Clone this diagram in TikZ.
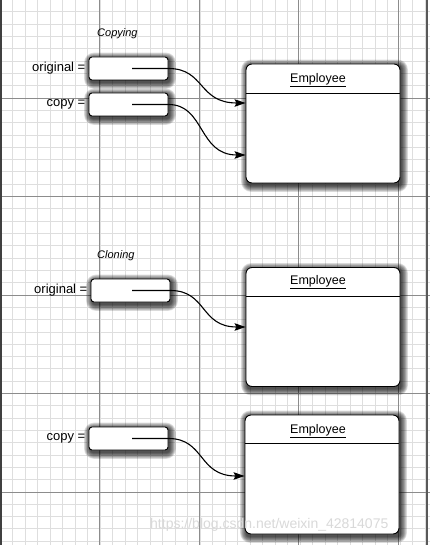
\documentclass[tikz,border=0pt]{standalone}
\usepackage{fontspec}
\setmainfont{Liberation Sans}
\usetikzlibrary{arrows.meta}
\pgfdeclarelayer{gridlayer}
\pgfdeclarelayer{shadowlayer}
\pgfsetlayers{gridlayer,shadowlayer,main}
\tikzset{
  minorgrid/.style={draw=black!13,line width=0.7pt},
  majorgrid/.style={draw=black!45,line width=0.8pt},
  refbox/.style={draw=black,line width=0.9pt,fill=white,rounded corners=3pt,
    minimum width=79pt,minimum height=23pt,inner sep=0pt},
  objbox/.style={draw=black,line width=0.9pt,fill=white,rounded corners=6pt,
    minimum width=154pt,minimum height=119pt,inner sep=0pt},
  shadowfill/.style={fill=black,opacity=0.13},
  lbl/.style={anchor=east,inner sep=0pt,font=\fontsize{13}{15}\selectfont},
  ttl/.style={inner sep=0pt,font=\fontsize{12.5}{14}\selectfont},
  captext/.style={inner sep=0pt,font=\fontsize{11}{13}\selectfont\itshape},
  link/.style={line width=1.1pt,-{Stealth[length=11pt,width=7.5pt,inset=2pt]}},
}
\newcommand{\uline}[1]{\underline{#1}}
\newcommand{\boxshadow}[1]{%
  \begin{pgfonlayer}{shadowlayer}
  \foreach \k in {0,...,7} {
    \fill[shadowfill,rounded corners={3pt+\k pt}]
      ([shift={(1.5-0.85*\k,2-0.85*\k)}]#1.north west) rectangle ([shift={(1.5+0.85*\k,2.5+0.85*\k)}]#1.south east);
  }
  \end{pgfonlayer}}
\begin{document}
\begin{tikzpicture}[x=1pt,y=-1pt]
\useasboundingbox (0,0) rectangle (430,545);
\begin{pgfonlayer}{gridlayer}
\fill[white] (0,0) rectangle (430,545);
\foreach \i in {0,...,34} {\draw[minorgrid] (\i*12.5,0) -- (\i*12.5,545);}
\foreach \j in {0,...,44} {\draw[minorgrid] (0,\j*12.31-0.5) -- (430,\j*12.31-0.5);}
\foreach \i in {1,...,4} {\draw[majorgrid] (\i*99.5,0) -- (\i*99.5,545);}
\foreach \j in {1,...,5} {\draw[majorgrid] (0,\j*98.5-0.5) -- (430,\j*98.5-0.5);}
\draw[black!75,line width=1.5pt] (1,0) -- (1,545);
\draw[black!65,line width=2.5pt] (427,0) -- (427,545);
\end{pgfonlayer}

% ---------- Copying ----------
\node[captext,anchor=west] (capcopy) at (97,34) {Copying};
\node[refbox] (orig1) at (128.5,68.5) {};
\node[lbl] (orig1l) at ([xshift=-3pt]orig1.west) {original =};
\node[refbox] (copy1) at (128.5,104.5) {};
\node[lbl] (copy1l) at ([xshift=-3pt]copy1.west) {copy =};
\node[objbox] (emp1) at (323,123.5) {};
\node[ttl] (emp1t) at (318,80) {\uline{Employee}};
\draw[line width=0.8pt] (emp1.west |- 0,93) -- (emp1.east |- 0,93);
\coordinate (orig1s) at (132,68.5);
\coordinate (copy1s) at (132,104.5);
\coordinate (emp1a) at (emp1.west |- 0,103);
\coordinate (emp1b) at (emp1.west |- 0,155);
\draw[link] (orig1s) -- (orig1.east) .. controls (205,68.5) and (198,103) .. (emp1a);
\draw[link] (copy1s) -- (copy1.east) .. controls (205,104.5) and (198,155) .. (emp1b);

% ---------- Cloning ----------
\node[captext,anchor=west] (capclone) at (97,256) {Cloning};
\node[refbox] (orig2) at (130.5,290.5) {};
\node[lbl] (orig2l) at ([xshift=-3pt]orig2.west) {original =};
\node[objbox] (emp2) at (323,327) {};
\node[ttl] (emp2t) at (318,282) {\uline{Employee}};
\draw[line width=0.8pt] (emp2.west |- 0,296) -- (emp2.east |- 0,296);
\coordinate (orig2s) at (132,290.5);
\coordinate (emp2a) at (emp2.west |- 0,327);
\draw[link] (orig2s) -- (orig2.east) .. controls (207,290.5) and (200,327) .. (emp2a);

\node[refbox] (copy2) at (128.5,438.5) {};
\node[lbl] (copy2l) at ([xshift=-3pt]copy2.west) {copy =};
\node[objbox] (emp3) at (322,474.5) {};
\node[ttl] (emp3t) at (318,431) {\uline{Employee}};
\draw[line width=0.8pt] (emp3.west |- 0,443) -- (emp3.east |- 0,443);
\coordinate (copy2s) at (132,438.5);
\coordinate (emp3a) at (emp3.west |- 0,476);
\draw[link] (copy2s) -- (copy2.east) .. controls (205,438.5) and (198,476) .. (emp3a);

\boxshadow{orig1}\boxshadow{copy1}\boxshadow{emp1}
\boxshadow{orig2}\boxshadow{emp2}
\boxshadow{copy2}\boxshadow{emp3}

% watermark
\node[anchor=west,inner sep=0pt,text=black!15,font=\fontsize{14}{16}\selectfont] (wm) at (150,525) {https://blog.csdn.net/weixin\_42814075};
\end{tikzpicture}
\end{document}
